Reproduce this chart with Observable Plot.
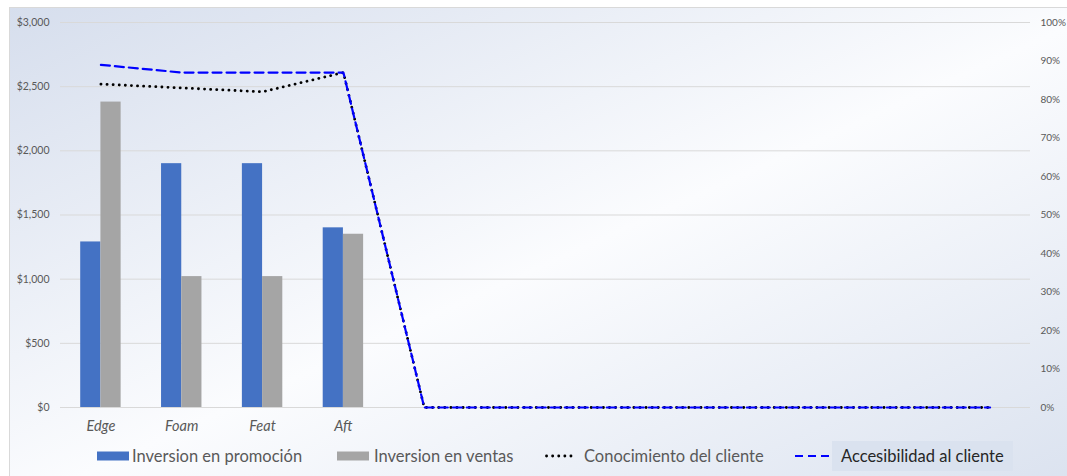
<!DOCTYPE html>
<html><head><meta charset="utf-8">
<script src="https://cdn.jsdelivr.net/npm/d3@7"></script>
<script src="https://cdn.jsdelivr.net/npm/@observablehq/plot@0.6"></script>
<style>
body{margin:0;width:1067px;height:476px;overflow:hidden;background:#fff;font-family:Lato,"Noto Sans",sans-serif;position:relative;}
#frame{position:absolute;left:9px;top:7px;width:1100px;height:500px;border:1px solid #d9d9d9;background:linear-gradient(to bottom right,#d6deed 0%,#fbfcfe 50%,#d8e0ee 100%);}
#chart{position:absolute;left:0;top:0;}
.item{position:absolute;top:441px;height:30px;display:flex;align-items:center;font-size:16.5px;color:#595959;white-space:nowrap;}
.item svg{display:block;}
.item.sel span{background:#dae2ef;color:#262626;height:30px;line-height:30px;padding:0 9px;}
</style></head>
<body>
<div id="frame"></div>
<div id="chart"></div>
<div id="legend"></div>
<script>
const categories = ["Edge","Foam","Feat","Aft","","","","","","","",""];
const promocion = [1290,1900,1900,1400];
const ventas = [2380,1020,1020,1350];
const conocimiento = [0.84,0.83,0.82,0.87,0,0,0,0,0,0,0,0];
const accesibilidad = [0.89,0.87,0.87,0.87,0,0,0,0,0,0,0,0];
const seriesNames = ["Inversion en promoción","Inversion en ventas","Conocimiento del cliente","Accesibilidad al cliente"];
const leftTicks = [0,500,1000,1500,2000,2500,3000];
const rightTicks = [0,0.1,0.2,0.3,0.4,0.5,0.6,0.7,0.8,0.9,1];
const Y_MAX = 3000;

const idx = d3.range(categories.length);
const promoData = promocion.map((v,i)=>({i, v}));
const ventasData = ventas.map((v,i)=>({i, v}));
const conData = conocimiento.map((p,i)=>({i, y: p*Y_MAX}));
const accData = accesibilidad.map((p,i)=>({i, y: p*Y_MAX}));

const W = 1067, H = 440, ML = 60, MR = 37;
const step = (W-ML-MR)/categories.length;
const half = step*0.25;

const chart = Plot.plot({
  width: W, height: H,
  marginLeft: ML, marginRight: MR, marginTop: 22, marginBottom: 33,
  style: {background: "transparent", fontFamily: "Lato, sans-serif", overflow: "visible"},
  x: {type: "band", domain: idx, paddingInner: 0.5, paddingOuter: 0.25, round: false},
  y: {domain: [0, Y_MAX]},
  marks: [
    Plot.gridY(leftTicks, {stroke: "#d9d9d9", strokeOpacity: 1}),
    Plot.barY(promoData, {x: "i", y: "v", fill: "#4472C4", insetRight: half}),
    Plot.barY(ventasData, {x: "i", y: "v", fill: "#A5A5A5", insetLeft: half}),
    Plot.lineY(conData, {x: "i", y: "y", stroke: "#000", strokeWidth: 2.8, strokeDasharray: "0.1,6", strokeLinecap: "round"}),
    Plot.lineY(accData, {x: "i", y: "y", stroke: "#0000FF", strokeWidth: 2.2, strokeDasharray: "9,5"}),
    Plot.axisY(leftTicks, {anchor: "left", tickSize: 0, tickPadding: 11, fontSize: 10.5, fill: "#595959",
      tickFormat: d => "$" + d3.format(",")(d), label: null}),
    Plot.axisY(rightTicks.map(p => p*Y_MAX), {anchor: "right", tickSize: 0, tickPadding: 10, fontSize: 10, fill: "#595959",
      tickFormat: d => Math.round(d/Y_MAX*100) + "%", label: null}),
    Plot.axisX(idx, {anchor: "bottom", tickSize: 0, tickPadding: 13, fontSize: 14.5, fontStyle: "italic", fill: "#595959",
      tickFormat: i => categories[i], label: null})
  ]
});
document.getElementById("chart").appendChild(chart);

// legend
const legend = document.getElementById("legend");
const swatches = [
  `<svg width="32" height="10"><rect x="0" y="0.5" width="32" height="9" fill="#4472C4"/></svg>`,
  `<svg width="32" height="10"><rect x="0" y="0.5" width="32" height="9" fill="#A5A5A5"/></svg>`,
  `<svg width="30" height="10"><line x1="1.5" x2="29" y1="5" y2="5" stroke="#000" stroke-width="2.8" stroke-dasharray="0.1,6" stroke-linecap="round"/></svg>`,
  `<svg width="36" height="10"><line x1="0" x2="36" y1="5" y2="5" stroke="#0000FF" stroke-width="2.2" stroke-dasharray="8,5"/></svg>`
];
const lefts = [97, 337, 545, 795];
const gaps = [3, 5, 9, 1];
seriesNames.forEach((name, k) => {
  const d = document.createElement("div");
  d.className = "item" + (k === 3 ? " sel" : "");
  d.style.left = lefts[k] + "px";
  d.innerHTML = swatches[k] + `<span style="margin-left:${gaps[k]}px">${name}</span>`;
  legend.appendChild(d);
});
</script>
</body></html>
